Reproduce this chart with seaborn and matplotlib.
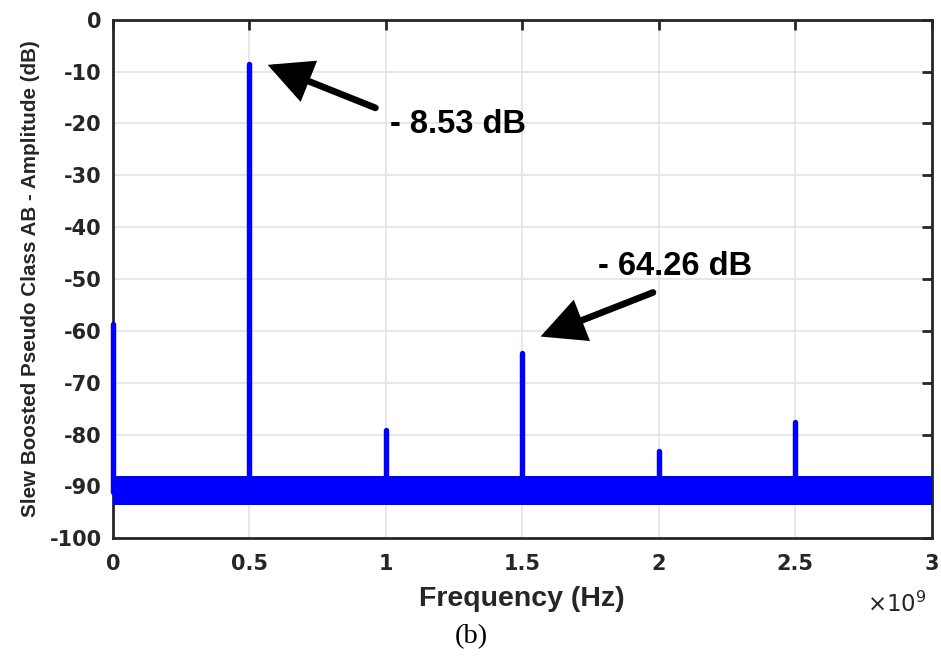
import matplotlib
matplotlib.use("Agg")
import matplotlib.pyplot as plt
import seaborn as sns
import pandas as pd

# ---- data (frequency in units of 1e9 Hz) ----
peak_freq = [0.0, 0.5, 1.0, 1.5, 2.0, 2.5]
peak_db = [-58.6, -8.53, -79.2, -64.26, -83.2, -77.6]
noise_floor_db = -91.0
noise_high_db = -88.0
noise_low_db = -93.5
freq_span = [0.0, 3.0]

x_ticks = [0, 0.5, 1, 1.5, 2, 2.5, 3]
x_tick_labels = ["0", "0.5", "1", "1.5", "2", "2.5", "3"]
y_ticks = [0, -10, -20, -30, -40, -50, -60, -70, -80, -90, -100]
y_tick_labels = ["0", "-10", "-20", "-30", "-40", "-50", "-60", "-70", "-80", "-90", "-100"]

ann_texts = ["- 8.53 dB", "- 64.26 dB"]

sns.set_style("white")
plt.rcParams["font.family"] = ["DejaVu Sans"]

fig = plt.figure(figsize=(9.41, 6.58), dpi=100)
ax = fig.add_axes([0.120, 0.182, 0.870, 0.788])

blue = "#0000FF"
ink = "#262626"

# noise floor band
ax.fill_between(freq_span, [noise_low_db] * 2, [noise_high_db] * 2,
                color=blue, lw=0, zorder=3)

# spikes as long-format line segments
rows = []
for i, (f, d) in enumerate(zip(peak_freq, peak_db)):
    rows.append({"freq": f, "db": noise_floor_db, "peak": i})
    rows.append({"freq": f, "db": d, "peak": i})
df = pd.DataFrame(rows)
sns.lineplot(data=df, x="freq", y="db", units="peak", estimator=None,
             color=blue, lw=3.9, ax=ax, zorder=4, legend=False,
             solid_capstyle="round")
for ln in ax.lines:
    ln.set_clip_on(False)

ax.set_xlim(0, 3)
ax.set_ylim(-100, 0)
ax.set_xticks(x_ticks)
ax.set_xticklabels(x_tick_labels)
ax.set_yticks(y_ticks)
ax.set_yticklabels(y_tick_labels)

ax.grid(True, color="#e3e3e3", lw=1.2, zorder=0)
ax.set_axisbelow(True)
for s in ax.spines.values():
    s.set_visible(True)
    s.set_color(ink)
    s.set_linewidth(2.0)
    s.set_zorder(2)

ax.tick_params(axis="both", direction="in", length=7, width=2, color=ink,
               top=True, right=True, labelsize=15, labelcolor=ink, pad=8)
ax.tick_params(axis="x", pad=11)
for lab in ax.get_xticklabels() + ax.get_yticklabels():
    lab.set_fontweight("bold")

ax.set_xlabel("Frequency (Hz)", fontsize=20.5, fontweight="bold", color=ink,
              family="Liberation Sans", labelpad=9)
ax.set_ylabel("Slew Boosted Pseudo Class AB - Amplitude (dB)", fontsize=14.9,
              fontweight="bold", color=ink, family="Liberation Sans", labelpad=7)

fig.text(0.953, 0.063, r"$\times10^{9}$", fontsize=16.5, color=ink,
         ha="center", va="bottom")
fig.text(0.501, 0.013, "(b)", fontsize=20.5, family="Liberation Serif",
         ha="center", va="bottom", color="black")

arrow_kw = dict(arrowstyle="-|>,head_length=1.1,head_width=0.55", lw=4.8,
                color="black", capstyle="round", joinstyle="miter",
                shrinkA=0, shrinkB=0, mutation_scale=22)
ax.annotate("", xy=(0.567, -8.7), xytext=(0.962, -17.0),
            arrowprops=arrow_kw, zorder=6)
ax.annotate("", xy=(1.567, -61.1), xytext=(1.979, -52.6),
            arrowprops=arrow_kw, zorder=6)
ax.text(1.015, -21.8, ann_texts[0], fontsize=23.5, fontweight="bold",
        family="Liberation Sans", ha="left", va="baseline", color="black", zorder=6)
ax.text(1.777, -49.2, ann_texts[1], fontsize=23.5, fontweight="bold",
        family="Liberation Sans", ha="left", va="baseline", color="black", zorder=6)

fig.savefig("out.png", dpi=100, facecolor="white")
